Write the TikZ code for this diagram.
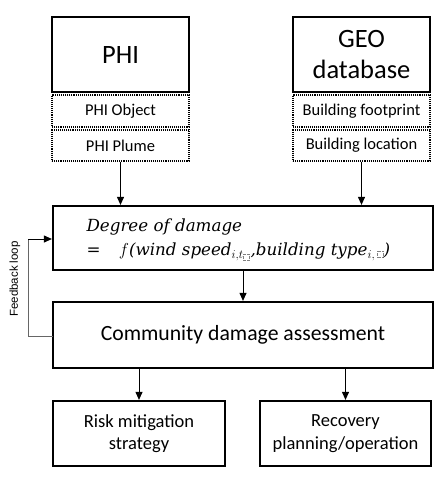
\documentclass[tikz,border=0pt]{standalone}
\usepackage{fontspec}
\setmainfont{Carlito}
\newfontfamily\eqfont{DejaVu Serif}
\newfontfamily\fbfont{Liberation Sans}
\usetikzlibrary{arrows.meta}
\tikzset{
  mainbox/.style={draw, line width=2.2pt, inner sep=0pt, align=center},
  subbox/.style={draw, densely dotted, line width=1.1pt, inner sep=0pt, align=center, font=\fontsize{16.5}{18}\selectfont},
  arr/.style={-{Triangle[length=8pt,width=7pt]}, line width=1pt},
}
\newcommand{\phbox}{\tikz[baseline=-1pt]\draw[densely dotted, line width=0.35pt, gray] (0,0) rectangle (6pt,6pt);}
\begin{document}
\begin{tikzpicture}[x=1pt,y=-1pt]
\useasboundingbox (0,0) rectangle (446,484);
% top boxes
\node[mainbox, minimum width=137, minimum height=75, font=\fontsize{26.5}{31}\selectfont] (phi) at (120.5,54.5) {PHI};
\node[subbox, minimum width=137, minimum height=32] (phio) at (120.5,111) {PHI Object};
\node[subbox, minimum width=137, minimum height=31] (phip) at (120.5,145.5) {PHI Plume};
\node[mainbox, minimum width=137, minimum height=75, font=\fontsize{26.5}{31}\selectfont] (geo) at (361.5,54.5) {GEO\\database};
\node[subbox, minimum width=137, minimum height=32] (geof) at (361.5,111) {Building footprint};
\node[subbox, minimum width=137, minimum height=31] (geol) at (361.5,145.5) {Building location};
% degree box
\node[mainbox, minimum width=380, minimum height=64] (deg) at (243,238) {};
\node[anchor=west, align=left, font=\eqfont\itshape\fontsize{16.7}{24}\selectfont] (eq) at (83,240) {Degree of damage\\{\upshape =}\hspace{1.1em}$f$(wind speed$_{i,t_{\phbox}}$,building type$_{i,\,\phbox}$)};
% community
\node[mainbox, minimum width=380, minimum height=66, font=\fontsize{21.7}{25}\selectfont] (com) at (243,335) {Community damage assessment};
% bottom
\node[mainbox, minimum width=172, minimum height=65, font=\fontsize{18.5}{22.5}\selectfont] (risk) at (139,433.5) {Risk mitigation\\strategy};
\node[mainbox, minimum width=171, minimum height=65, font=\fontsize{18.5}{22.5}\selectfont] (rec) at (345.5,433.5) {Recovery\\planning/operation};
% arrows
\draw[arr] (phip.south) -- (phip.south |- deg.north);
\draw[arr] (geol.south) -- (geol.south |- deg.north);
\draw[arr] (deg.south) -- (com.north);
\draw[arr] (com.south -| risk.north) -- (risk.north);
\draw[arr] (com.south -| rec.north) -- (rec.north);
% feedback loop
\coordinate (fb1) at (53,336);
\coordinate (fb2) at (28,336);
\coordinate (fb3) at (28,239);
\draw[gray!80!black, line width=1pt] (fb1) -- (fb2) -- (fb3);
\draw[arr] (fb3) -- (deg.west |- fb3);
\node[rotate=90, font=\fbfont\fontsize{11.5}{13}\selectfont] (fbl) at (15,279) {Feedback loop};
\end{tikzpicture}
\end{document}
